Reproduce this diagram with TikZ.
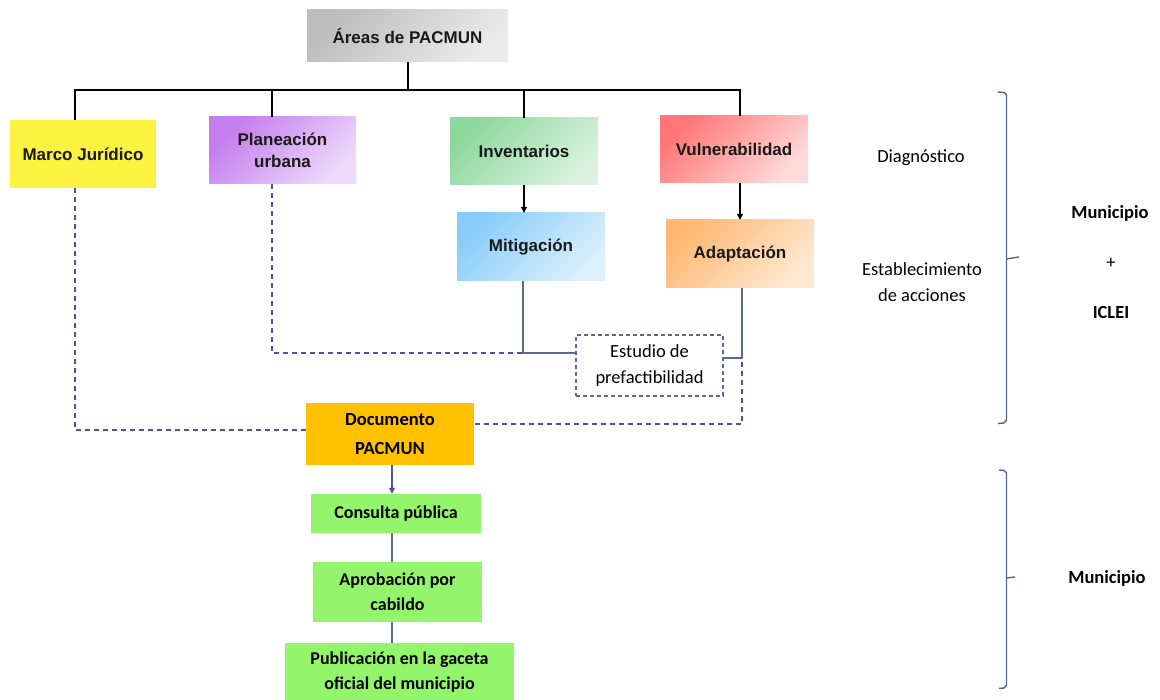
\documentclass[tikz,border=0pt]{standalone}
\usepackage{fontspec}
\setmainfont{Carlito}
\newfontfamily\arialf{Liberation Sans}
\usetikzlibrary{arrows.meta,calc}
\definecolor{grayA}{HTML}{BDBDBD}\definecolor{grayB}{HTML}{EBEBEB}
\definecolor{yel}{HTML}{FBF340}
\definecolor{purA}{HTML}{C47CEE}\definecolor{purB}{HTML}{EDD9F9}
\definecolor{grnA}{HTML}{8DD89D}\definecolor{grnB}{HTML}{DAF2DF}
\definecolor{redA}{HTML}{FF7676}\definecolor{redB}{HTML}{FFDADA}
\definecolor{bluA}{HTML}{88CDFA}\definecolor{bluB}{HTML}{DDF0FD}
\definecolor{oraA}{HTML}{FFB872}\definecolor{oraB}{HTML}{FFE8D2}
\definecolor{gold}{HTML}{FFC000}
\definecolor{lgreen}{HTML}{93F56C}
\definecolor{solidc}{HTML}{5A6A94}
\definecolor{dashc}{HTML}{5050A8}
\definecolor{bracec}{HTML}{52648F}
\begin{document}
\begin{tikzpicture}[x=1pt,y=-1pt,
  areabox/.style={draw=none, minimum width=148pt, minimum height=67pt, inner sep=0pt, align=center,
    font=\arialf\bfseries\fontsize{17}{22}\selectfont, text=black!90},
  grad/.style n args={2}{top color=#1, bottom color=#2, shading angle=45},
  stepbox/.style={fill=lgreen, draw=none, inner sep=0pt, align=center,
    font=\bfseries\fontsize{18}{25}\selectfont},
  tree/.style={draw=black, line width=1.9pt},
  solidln/.style={draw=solidc, line width=1.5pt},
  dashln/.style={draw=dashc, line width=1.3pt, dash pattern=on 5pt off 4pt},
  arr/.style={-{Triangle[length=6pt,width=6pt]}},
  sidetxt/.style={font=\fontsize{18.5}{26}\selectfont, align=center},
  sidebold/.style={font=\bfseries\fontsize{18.5}{26}\selectfont, align=center},
  brace/.style={draw=bracec, line width=1.4pt}
]
\useasboundingbox (0,0) rectangle (1160,700);
\fill[white] (0,0) rectangle (1160,700);

% top box
\node[areabox, minimum width=201pt, minimum height=52pt, grad={grayA}{grayB}] (top) at (407.5,36) {Áreas de PACMUN};

% first row
\node[areabox, minimum width=146pt, minimum height=68pt, fill=yel] (mj) at (83,154) {Marco Jurídico};
\node[areabox, minimum width=147pt, grad={purA}{purB}] (pu) at (282.5,150.5) {Planeación\\urbana};
\node[areabox, grad={grnA}{grnB}] (inv) at (524,151.5) {Inventarios};
\node[areabox, grad={redA}{redB}] (vul) at (734,149.5) {Vulnerabilidad};

% second row
\node[areabox, minimum height=68pt, grad={bluA}{bluB}] (mit) at (531,247) {Mitigación};
\node[areabox, minimum height=68pt, grad={oraA}{oraB}] (ada) at (740,254) {Adaptación};

% estudio
\node[draw=solidc, line width=1.2pt, dash pattern=on 4pt off 3pt, minimum width=147pt, minimum height=61pt,
  inner sep=0pt, align=center, font=\fontsize{18.5}{26}\selectfont] (est) at (649.5,365.5) {Estudio de\\prefactibilidad};

% documento
\node[fill=gold, minimum width=168pt, minimum height=62pt, inner sep=0pt, align=center,
  font=\bfseries\fontsize{18.5}{29}\selectfont] (doc) at (390,434) {Documento\\PACMUN};

% steps
\node[stepbox, minimum width=170pt, minimum height=39pt] (con) at (396,513.5) {Consulta pública};
\node[stepbox, minimum width=169pt, minimum height=60pt] (apr) at (397.5,592) {Aprobación por\\cabildo};
\node[stepbox, minimum width=229pt, minimum height=59pt] (pub) at (399.5,672.5) {Publicación en la gaceta\\oficial del municipio};

% tree connectors
\coordinate (bus) at (408,90);
\coordinate (mjx) at (75,90);
\coordinate (pux) at (272,90);
\coordinate (vux) at (740,90);
\draw[tree] (top.south -| bus) -- (bus);
\draw[tree] (mjx |- mj.north) -- (mjx) -- (vux) -- (vux |- vul.north);
\draw[tree] (pux) -- (pux |- pu.north);
\draw[tree] (inv.north |- bus) -- (inv.north);

% arrows
\draw[black, line width=1.3pt, arr] (inv.south) -- (inv.south |- mit.north);
\draw[black, line width=1.3pt, arr] (ada.north |- vul.south) -- (ada.north);

% solid lines to estudio
\coordinate (mitj) at (523,353);
\coordinate (adaj) at (742,358);
\draw[solidln] (mitj |- mit.south) -- (mitj) -- (mitj -| est.west);
\draw[solidln] (adaj |- ada.south) -- (adaj) -- (adaj -| est.east);

% dashed lines
\draw[dashln] (pux |- pu.south) -- (pux |- mitj) -- (mitj);
\coordinate (adad) at (742,424);
\draw[dashln] ($(adaj)+(0,4)$) -- (adad) -- (adad -| doc.east);
\coordinate (mjd) at (75,430);
\draw[dashln] (mjx |- mj.south) -- (mjd) -- (mjd -| doc.west);

% bottom chain
\coordinate (chain) at (392,0);
\draw[dashc, line width=1.2pt, arr] (chain |- doc.south) -- (chain |- con.north);
\draw[solidc, line width=1.2pt] (chain |- con.south) -- (chain |- apr.north);
\draw[solidc, line width=1.2pt] (chain |- apr.south) -- (chain |- pub.north);

% side texts
\node[sidetxt] (diag) at (921,158) {Diagnóstico};
\node[sidetxt] (estab) at (922,282) {Establecimiento\\de acciones};
\node[sidebold] (muni1) at (1110,213) {Municipio};
\node[sidetxt] (plus) at (1111,263) {+};
\node[sidebold] (iclei) at (1111,312) {ICLEI};
\node[sidebold] (muni2) at (1107,578) {Municipio};

% braces
\draw[brace] (998,92) -- (1004,92.5) -- (1006.5,95) -- (1006.5,420) -- (1004,423) -- (998,423.5);
\draw[brace] (1006.5,259) -- (1019,257);
\draw[brace] (999,470) -- (1004,470.5) -- (1006.5,473) -- (1006.5,685) -- (1004,688) -- (999,688.5);
\draw[brace] (1006.5,578) -- (1015,577);
\end{tikzpicture}
\end{document}
